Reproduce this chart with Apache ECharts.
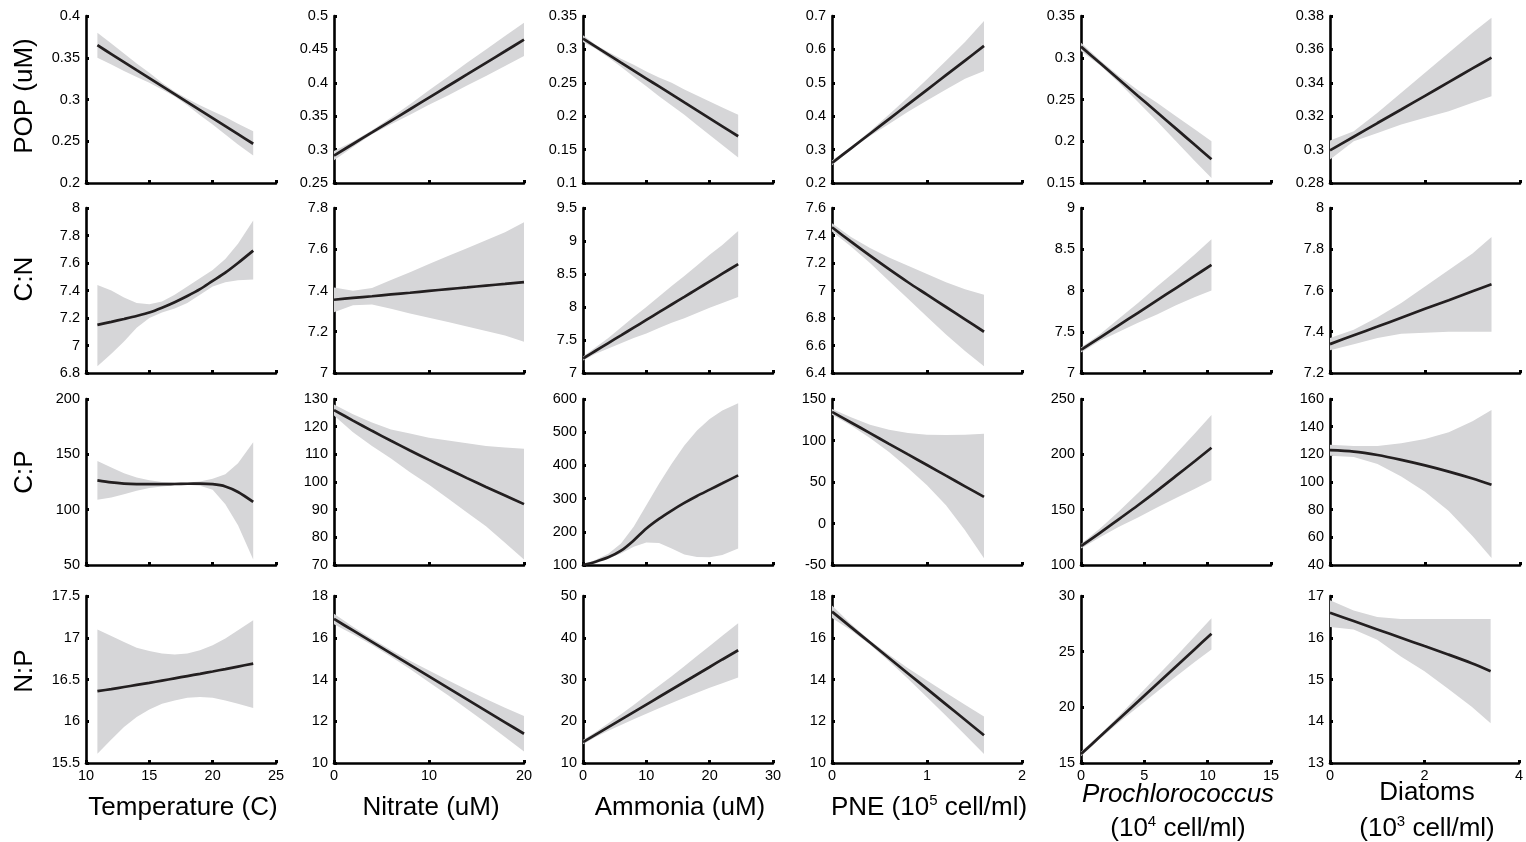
<!DOCTYPE html>
<html>
<head>
<meta charset="utf-8">
<title>POP and stoichiometry vs environment</title>
<script src="https://cdn.jsdelivr.net/npm/echarts@6/dist/echarts.min.js"></script>
<style>
  html, body { margin: 0; padding: 0; background: #fff; }
  #chart { width: 1526px; height: 842px; }
</style>
</head>
<body>
<div id="chart"></div>
<script>
// predictor samples (one per column)
const tempX = [10.9, 12, 13, 14, 15, 16, 17, 18, 19, 20, 21, 22, 23.2];
const nitrateX = [0, 2, 4, 6, 8, 10, 12, 14, 16, 18, 20];
const ammoniaX = [0, 2, 4, 6, 8, 10, 12, 14, 16, 18, 20, 22, 24.5];
const pneX = [0, 0.2, 0.4, 0.6, 0.8, 1.0, 1.2, 1.4, 1.6];
const proX = [0, 1.5, 3, 4.5, 6, 7.5, 9, 10.3];
const diatomX = [0, 0.5, 1, 1.5, 2, 2.5, 3, 3.4];

// POP (uM)
const popTemp = [0.3650, 0.3544, 0.3448, 0.3352, 0.3257, 0.3161, 0.3065, 0.2969, 0.2873, 0.2777, 0.2681, 0.2585, 0.2470];
const popTempLo = [0.350, 0.342, 0.334, 0.327, 0.320, 0.312, 0.3035, 0.293, 0.281, 0.270, 0.258, 0.246, 0.233];
const popTempHi = [0.380, 0.367, 0.355, 0.343, 0.332, 0.320, 0.3095, 0.301, 0.293, 0.286, 0.279, 0.271, 0.262];
const popNitrate = [0.2910, 0.3084, 0.3257, 0.3431, 0.3604, 0.3778, 0.3952, 0.4125, 0.4299, 0.4472, 0.4646];
const popNitrateLo = [0.284, 0.304, 0.323, 0.338, 0.352, 0.367, 0.381, 0.396, 0.410, 0.425, 0.440];
const popNitrateHi = [0.298, 0.312, 0.329, 0.348, 0.368, 0.389, 0.409, 0.430, 0.450, 0.470, 0.490];
const popAmmonia = [0.3160, 0.3041, 0.2922, 0.2802, 0.2683, 0.2564, 0.2445, 0.2326, 0.2206, 0.2087, 0.1968, 0.1849, 0.1700];
const popAmmoniaLo = [0.311, 0.301, 0.288, 0.274, 0.259, 0.245, 0.230, 0.216, 0.202, 0.187, 0.172, 0.157, 0.138];
const popAmmoniaHi = [0.321, 0.307, 0.296, 0.286, 0.277, 0.267, 0.258, 0.250, 0.240, 0.231, 0.222, 0.213, 0.202];
const popPne = [0.2600, 0.3038, 0.3476, 0.3914, 0.4352, 0.4790, 0.5228, 0.5666, 0.6104];
const popPneLo = [0.253, 0.300, 0.341, 0.377, 0.413, 0.447, 0.480, 0.512, 0.535];
const popPneHi = [0.267, 0.308, 0.355, 0.405, 0.457, 0.511, 0.566, 0.622, 0.685];
const popPro = [0.3133, 0.2937, 0.2740, 0.2543, 0.2347, 0.2151, 0.1954, 0.1784];
const popProLo = [0.308, 0.291, 0.270, 0.247, 0.224, 0.200, 0.176, 0.156];
const popProHi = [0.318, 0.297, 0.278, 0.261, 0.246, 0.230, 0.214, 0.200];
const popDiatom = [0.2995, 0.3077, 0.3159, 0.3240, 0.3322, 0.3404, 0.3486, 0.3551];
const popDiatomLo = [0.294, 0.305, 0.310, 0.315, 0.319, 0.323, 0.328, 0.332];
const popDiatomHi = [0.3055, 0.311, 0.322, 0.334, 0.346, 0.358, 0.370, 0.379];

// C:N
const cnTemp = [7.15, 7.172, 7.193, 7.215, 7.24, 7.275, 7.315, 7.36, 7.41, 7.47, 7.53, 7.60, 7.69];
const cnTempLo = [6.85, 6.94, 7.03, 7.13, 7.20, 7.24, 7.27, 7.31, 7.37, 7.43, 7.46, 7.475, 7.48];
const cnTempHi = [7.44, 7.40, 7.35, 7.31, 7.30, 7.32, 7.37, 7.43, 7.49, 7.55, 7.63, 7.74, 7.91];
const cnNitrate = [7.355, 7.364, 7.372, 7.381, 7.389, 7.398, 7.407, 7.415, 7.424, 7.432, 7.441];
const cnNitrateLo = [7.295, 7.329, 7.332, 7.311, 7.289, 7.268, 7.247, 7.225, 7.204, 7.182, 7.151];
const cnNitrateHi = [7.415, 7.399, 7.412, 7.451, 7.489, 7.528, 7.567, 7.605, 7.644, 7.682, 7.731];
const cnAmmonia = [7.220, 7.337, 7.454, 7.570, 7.687, 7.804, 7.921, 8.038, 8.154, 8.271, 8.388, 8.505, 8.651];
const cnAmmoniaLo = [7.19, 7.29, 7.37, 7.45, 7.53, 7.60, 7.68, 7.76, 7.83, 7.91, 7.99, 8.06, 8.15];
const cnAmmoniaHi = [7.25, 7.39, 7.53, 7.69, 7.85, 8.00, 8.16, 8.32, 8.47, 8.63, 8.79, 8.94, 9.15];
const cnPne = [7.46, 7.355, 7.253, 7.155, 7.06, 6.97, 6.88, 6.79, 6.70];
const cnPneLo = [7.43, 7.32, 7.20, 7.07, 6.94, 6.81, 6.68, 6.56, 6.45];
const cnPneHi = [7.49, 7.39, 7.31, 7.24, 7.18, 7.12, 7.06, 7.01, 6.97];
const cnPro = [7.28, 7.43, 7.58, 7.73, 7.88, 8.03, 8.18, 8.31];
const cnProLo = [7.25, 7.39, 7.50, 7.61, 7.71, 7.82, 7.92, 8.00];
const cnProHi = [7.31, 7.47, 7.66, 7.85, 8.05, 8.24, 8.44, 8.62];
const cnDiatom = [7.340, 7.383, 7.425, 7.468, 7.511, 7.553, 7.596, 7.630];
const cnDiatomLo = [7.31, 7.34, 7.37, 7.39, 7.395, 7.40, 7.40, 7.40];
const cnDiatomHi = [7.37, 7.41, 7.47, 7.54, 7.62, 7.70, 7.78, 7.86];

// C:P
const cpTemp = [126.5, 124.6, 123.6, 123.1, 123, 123, 123.2, 123.4, 123.5, 123, 121, 116, 107];
const cpTempLo = [109, 111, 114, 117, 119.5, 121, 122, 122.5, 121.5, 118, 105, 86, 55];
const cpTempHi = [144, 138, 133, 129, 126.5, 125, 124.5, 124.5, 125.5, 128, 132, 142, 161];
const cpNitrate = [126, 122.2, 118.5, 114.9, 111.4, 108, 104.7, 101.4, 98.2, 95.1, 92];
const cpNitrateLo = [124, 118, 113, 108.5, 103.5, 99, 94, 89, 84, 78, 72];
const cpNitrateHi = [128, 124.5, 121.5, 119, 117.5, 116, 115, 114, 113, 112.5, 112];
const cpAmmonia = [100, 110, 123, 143, 174, 210, 239, 264, 287, 308, 327, 346, 370];
const cpAmmoniaLo = [100, 110, 120, 135, 155, 168, 166, 150, 132, 124, 123, 130, 150];
const cpAmmoniaHi = [100, 116, 134, 165, 215, 280, 345, 405, 460, 505, 540, 565, 587];
const cpPne = [134.5, 121.7, 108.9, 96, 83.2, 70.5, 57.6, 44.8, 32];
const cpPneLo = [131, 118, 103, 86, 67, 46, 22, -8, -42];
const cpPneHi = [138, 128, 119, 113, 109, 107, 106.5, 107, 108];
const cpPro = [117, 129, 141.5, 154, 167, 180.5, 194, 206];
const cpProLo = [115, 125, 134.5, 143, 152, 160.5, 169, 176.5];
const cpProHi = [119, 133, 148.5, 165, 182, 200.5, 219, 235.5];
const cpDiatom = [123, 122, 119.5, 116, 112, 107.5, 102.5, 98];
const cpDiatomLo = [119, 118, 113, 104, 93, 79, 61, 45];
const cpDiatomHi = [127, 126, 126, 128, 131, 136, 144, 152];

// N:P
const npTemp = [16.36, 16.385, 16.41, 16.435, 16.46, 16.487, 16.514, 16.541, 16.568, 16.596, 16.625, 16.655, 16.69];
const npTempLo = [15.61, 15.78, 15.93, 16.05, 16.14, 16.21, 16.25, 16.28, 16.29, 16.28, 16.25, 16.21, 16.16];
const npTempHi = [17.10, 17.02, 16.95, 16.88, 16.84, 16.81, 16.80, 16.81, 16.85, 16.91, 16.99, 17.09, 17.21];
const npNitrate = [16.9, 16.35, 15.8, 15.25, 14.7, 14.15, 13.6, 13.05, 12.5, 11.95, 11.4];
const npNitrateLo = [16.65, 16.17, 15.65, 15.09, 14.5, 13.87, 13.24, 12.59, 11.93, 11.25, 10.55];
const npNitrateHi = [17.15, 16.53, 15.95, 15.41, 14.9, 14.43, 13.96, 13.51, 13.07, 12.65, 12.25];
const npAmmonia = [15, 16.8, 18.6, 20.4, 22.2, 24.0, 25.8, 27.6, 29.4, 31.2, 33.0, 34.8, 37.0];
const npAmmoniaLo = [14.5, 16.2, 17.7, 19.1, 20.5, 21.8, 23.1, 24.4, 25.6, 26.8, 28.0, 29.1, 30.5];
const npAmmoniaHi = [15.5, 17.4, 19.5, 21.7, 23.9, 26.2, 28.5, 30.8, 33.2, 35.6, 38.0, 40.5, 43.5];
const npPne = [17.25, 16.51, 15.77, 15.03, 14.29, 13.55, 12.81, 12.07, 11.33];
const npPneLo = [16.95, 16.36, 15.67, 14.88, 14.04, 13.15, 12.26, 11.35, 10.43];
const npPneHi = [17.55, 16.66, 15.87, 15.18, 14.54, 13.95, 13.36, 12.79, 12.23];
const npPro = [15.8, 17.375, 18.95, 20.525, 22.1, 23.675, 25.25, 26.615];
const npProLo = [15.6, 17.17, 18.65, 20.02, 21.4, 22.77, 24.1, 25.2];
const npProHi = [16.0, 17.57, 19.25, 21.02, 22.8, 24.57, 26.4, 28.0];
const npDiatom = [16.6, 16.4, 16.2, 16.0, 15.8, 15.6, 15.39, 15.2];
const npDiatomLo = [16.26, 16.2, 15.95, 15.55, 15.2, 14.78, 14.35, 13.95];
const npDiatomHi = [16.9, 16.65, 16.5, 16.45, 16.45, 16.45, 16.45, 16.45];

// axis ranges [min, max, step]
const xRanges = [[10, 25, 5], [0, 20, 10], [0, 30, 10], [0, 2, 1], [0, 15, 5], [0, 4, 2]];
const popRanges = [[0.2, 0.4, 0.05], [0.25, 0.5, 0.05], [0.1, 0.35, 0.05], [0.2, 0.7, 0.1], [0.15, 0.35, 0.05], [0.28, 0.38, 0.02]];
const cnRanges = [[6.8, 8, 0.2], [7, 7.8, 0.2], [7, 9.5, 0.5], [6.4, 7.6, 0.2], [7, 9, 0.5], [7.2, 8, 0.2]];
const cpRanges = [[50, 200, 50], [70, 130, 10], [100, 600, 100], [-50, 150, 50], [100, 250, 50], [40, 160, 20]];
const npRanges = [[15.5, 17.5, 0.5], [10, 18, 2], [10, 50, 10], [10, 18, 2], [15, 30, 5], [13, 17, 1]];

const rowNames = ['POP (uM)', 'C:N', 'C:P', 'N:P'];

const xs = [tempX, nitrateX, ammoniaX, pneX, proX, diatomX];
const yRanges = [popRanges, cnRanges, cpRanges, npRanges];
const curves = [
  [[popTemp, popTempLo, popTempHi], [popNitrate, popNitrateLo, popNitrateHi], [popAmmonia, popAmmoniaLo, popAmmoniaHi],
   [popPne, popPneLo, popPneHi], [popPro, popProLo, popProHi], [popDiatom, popDiatomLo, popDiatomHi]],
  [[cnTemp, cnTempLo, cnTempHi], [cnNitrate, cnNitrateLo, cnNitrateHi], [cnAmmonia, cnAmmoniaLo, cnAmmoniaHi],
   [cnPne, cnPneLo, cnPneHi], [cnPro, cnProLo, cnProHi], [cnDiatom, cnDiatomLo, cnDiatomHi]],
  [[cpTemp, cpTempLo, cpTempHi], [cpNitrate, cpNitrateLo, cpNitrateHi], [cpAmmonia, cpAmmoniaLo, cpAmmoniaHi],
   [cpPne, cpPneLo, cpPneHi], [cpPro, cpProLo, cpProHi], [cpDiatom, cpDiatomLo, cpDiatomHi]],
  [[npTemp, npTempLo, npTempHi], [npNitrate, npNitrateLo, npNitrateHi], [npAmmonia, npAmmoniaLo, npAmmoniaHi],
   [npPne, npPneLo, npPneHi], [npPro, npProLo, npProHi], [npDiatom, npDiatomLo, npDiatomHi]]
];

// layout
const colLeft = [86, 334, 583, 832, 1081, 1330];
const rowTop = [16, 208, 399, 596];
const rowH = [167, 165, 166, 167];
const plotW = 190;
const font = 'Liberation Sans, Arial, Helvetica, sans-serif';
const bandColor = '#d6d6d8';
const lineColor = '#231f20';

let chart = echarts.init(document.getElementById('chart'));

const grids = [], xAxes = [], yAxes = [], series = [];
for (let r = 0; r < 4; r++) {
  for (let c = 0; c < 6; c++) {
    const i = grids.length;
    grids.push({ left: colLeft[c], top: rowTop[r], width: plotW, height: rowH[r] });
    const xr = xRanges[c], yr = yRanges[r][c];
    xAxes.push({
      gridIndex: i, type: 'value', min: xr[0], max: xr[1], interval: xr[2],
      axisLine: { onZero: false, lineStyle: { color: '#000', width: 2.6 } },
      axisTick: { inside: true, length: 3, lineStyle: { color: '#000', width: 3 } },
      axisLabel: { show: r === 3, color: '#000', fontSize: 14.5, fontFamily: font, margin: 5 },
      splitLine: { show: false }
    });
    yAxes.push({
      gridIndex: i, type: 'value', min: yr[0], max: yr[1], interval: yr[2],
      axisLine: { onZero: false, lineStyle: { color: '#000', width: 2.6 } },
      axisTick: { inside: true, length: 3, lineStyle: { color: '#000', width: 3 } },
      axisLabel: { color: '#000', fontSize: 14.5, fontFamily: font, margin: 6 },
      splitLine: { show: false }
    });
    const xv = xs[c];
    const [mid, lo, hi] = curves[r][c];
    // confidence band drawn as one polygon
    series.push({
      type: 'custom', xAxisIndex: i, yAxisIndex: i, silent: true, z: 1,
      encode: { x: 0, y: [1, 2] },
      data: xv.map((x, k) => [x, lo[k], hi[k]]),
      renderItem: function (params, api) {
        if (params.dataIndex !== 0) return null;
        const pts = [];
        for (let k = 0; k < xv.length; k++) pts.push(api.coord([xv[k], hi[k]]));
        for (let k = xv.length - 1; k >= 0; k--) pts.push(api.coord([xv[k], lo[k]]));
        return { type: 'polygon', shape: { points: pts }, style: { fill: bandColor } };
      }
    });
    series.push({
      type: 'line', xAxisIndex: i, yAxisIndex: i, z: 3,
      data: xv.map((x, k) => [x, mid[k]]),
      showSymbol: false, smooth: 0.3, silent: true,
      lineStyle: { color: lineColor, width: 2.7 }
    });
  }
}

const titleStyle = { fill: '#000', fontSize: 26, fontFamily: font };
const graphics = [];
const rowTitleY = [96, 279, 472, 671];
rowNames.forEach((name, r) => {
  graphics.push({
    type: 'text', x: 25, y: rowTitleY[r], rotation: Math.PI / 2,
    style: Object.assign({ text: name, align: 'center', verticalAlign: 'middle' }, titleStyle)
  });
});
const colCenter = colLeft.map(l => l + plotW / 2);
const rich = {
  n: { fontSize: 26, fontFamily: font, fill: '#000', lineHeight: 30 },
  s: { fontSize: 15, fontFamily: font, fill: '#000', verticalAlign: 'top', lineHeight: 30 },
  i: { fontSize: 26, fontFamily: font, fill: '#000', fontStyle: 'italic', lineHeight: 30 }
};
const colTitles = [
  ['{n|Temperature (C)}', 808],
  ['{n|Nitrate (uM)}', 808],
  ['{n|Ammonia (uM)}', 808],
  ['{n|PNE (10}{s|5}{n| cell/ml)}', 808],
  ['{i|Prochlorococcus}', 795],
  ['{n|(10}{s|4}{n| cell/ml)}', 829],
  ['{n|Diatoms}', 793],
  ['{n|(10}{s|3}{n| cell/ml)}', 829]
];
const colTitleCol = [0, 1, 2, 3, 4, 4, 5, 5];
colTitles.forEach((t, k) => {
  graphics.push({
    type: 'text', x: colCenter[colTitleCol[k]] + 2, y: t[1],
    style: { text: t[0], rich: rich, align: 'center', verticalAlign: 'middle' }
  });
});

chart.setOption({
  backgroundColor: '#fff',
  animation: false,
  grid: grids,
  xAxis: xAxes,
  yAxis: yAxes,
  series: series,
  graphic: graphics
});
</script>
</body>
</html>
